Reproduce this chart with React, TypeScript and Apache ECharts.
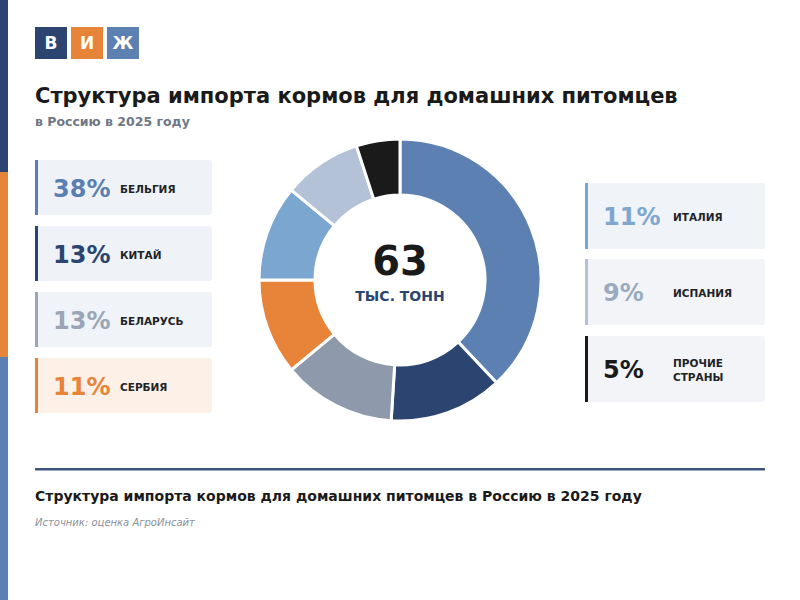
import React, { useEffect, useRef } from "react";
import * as echarts from "echarts";

const countries = ["БЕЛЬГИЯ", "КИТАЙ", "БЕЛАРУСЬ", "СЕРБИЯ", "ИТАЛИЯ", "ИСПАНИЯ", "ПРОЧИЕ\nСТРАНЫ"];
const shares = [38, 13, 13, 11, 11, 9, 5];
const totalValue = "63";
const totalUnit = "ТЫС. ТОНН";
const titleText = "Структура импорта кормов для домашних питомцев";
const subtitleText = "в Россию в 2025 году";
const footerTitle = "Структура импорта кормов для домашних питомцев в Россию в 2025 году";
const sourceText = "Источник: оценка АгроИнсайт";
const logoLetters = ["В", "И", "Ж"];

// styles (kept apart from data)
const sliceColors = ["#5b80b1", "#2b4570", "#8e9aab", "#e8833a", "#7aa6d0", "#b3c2d6", "#1a1a1a"];
const pctColors = ["#5b7fb0", "#2b4570", "#9aa6b6", "#e8833a", "#7ea6cf", "#9aabbf", "#1a1a1a"];
const cardBg = ["#eff3f8", "#eff3f8", "#f0f3f7", "#fdf1e7", "#f0f3f8", "#f2f4f7", "#f2f4f7"];
const logoColors = ["#2b4570", "#e8833a", "#5b80b1"];
const FONT = "DejaVu Sans";

export default function App() {
  const ref = useRef<HTMLDivElement>(null);
  useEffect(() => {
    if (!ref.current) return;
    const chart = echarts.init(ref.current, null, { renderer: "svg" });
    const graphics: any[] = [];
    // left edge stripe
    graphics.push({ type: "rect", shape: { x: 0, y: 0, width: 8, height: 172 }, style: { fill: "#2b4570" } });
    graphics.push({ type: "rect", shape: { x: 0, y: 172, width: 8, height: 185 }, style: { fill: "#e8833a" } });
    graphics.push({ type: "rect", shape: { x: 0, y: 357, width: 8, height: 243 }, style: { fill: "#5b80b1" } });
    // logo
    logoLetters.forEach((l, i) => {
      const x = 35 + i * 36;
      graphics.push({ type: "rect", shape: { x, y: 27, width: 32, height: 32 }, style: { fill: logoColors[i] } });
      graphics.push({
        type: "text", x: x + 16, y: 43,
        style: { text: l, fill: "#fff", font: `bold 17px ${FONT}`, align: "center", verticalAlign: "middle" },
      });
    });
    // titles
    graphics.push({
      type: "text", x: 35, y: 96,
      style: { text: titleText, fill: "#1a1a1a", font: `bold 21px ${FONT}`, verticalAlign: "middle" },
    });
    graphics.push({
      type: "text", x: 35, y: 121,
      style: { text: subtitleText, fill: "#6f7785", font: `bold 12.5px ${FONT}`, verticalAlign: "middle" },
    });
    // cards
    const leftTops = [160, 226, 292, 358];
    const rightTops = [183, 259, 336];
    countries.forEach((c, i) => {
      const left = i < 4;
      const x = left ? 35 : 585;
      const y = left ? leftTops[i] : rightTops[i - 4];
      const w = left ? 177 : 180;
      const h = left ? 55 : 66;
      graphics.push({ type: "rect", shape: { x, y, width: w, height: h, r: 3 }, style: { fill: cardBg[i] } });
      graphics.push({ type: "rect", shape: { x, y, width: 3, height: h }, style: { fill: left ? pctColors[i] : sliceColors[i] } });
      graphics.push({
        type: "text", x: x + 18, y: y + h / 2 + 1,
        style: { text: shares[i] + "%", fill: pctColors[i], font: `bold 24px ${FONT}`, verticalAlign: "middle" },
      });
      graphics.push({
        type: "text", x: left ? 120 : 673, y: y + h / 2 + 1,
        style: { text: c, fill: "#1f2328", font: `bold 10.5px ${FONT}`, verticalAlign: "middle", lineHeight: 14 },
      });
    });
    // center texts
    graphics.push({
      type: "text", x: 400, y: 261,
      style: { text: totalValue, fill: "#1a1a1a", font: `bold 40px ${FONT}`, align: "center", verticalAlign: "middle" },
    });
    graphics.push({
      type: "text", x: 400, y: 296,
      style: { text: totalUnit, fill: "#2b4570", font: `bold 14px ${FONT}`, align: "center", verticalAlign: "middle" },
    });
    // footer
    graphics.push({ type: "rect", shape: { x: 35, y: 468, width: 730, height: 2.5 }, style: { fill: "#3b5480" } });
    graphics.push({
      type: "text", x: 35, y: 496,
      style: { text: footerTitle, fill: "#1a1a1a", font: `bold 14px ${FONT}`, verticalAlign: "middle" },
    });
    graphics.push({
      type: "text", x: 35, y: 522,
      style: { text: sourceText, fill: "#8a8f98", font: `italic 10px ${FONT}`, verticalAlign: "middle" },
    });

    chart.setOption({
      animation: false,
      backgroundColor: "#ffffff",
      series: [
        {
          type: "pie",
          center: [400, 280],
          radius: [85, 141],
          startAngle: 90,
          clockwise: true,
          label: { show: false },
          labelLine: { show: false },
          silent: true,
          itemStyle: { borderColor: "#ffffff", borderWidth: 3 },
          data: countries.map((c, i) => ({ name: c, value: shares[i], itemStyle: { color: sliceColors[i] } })),
        },
      ],
      graphic: graphics,
    });
    return () => chart.dispose();
  }, []);
  return <div ref={ref} style={{ position: "fixed", left: 0, top: 0, width: 800, height: 600 }} />;
}
